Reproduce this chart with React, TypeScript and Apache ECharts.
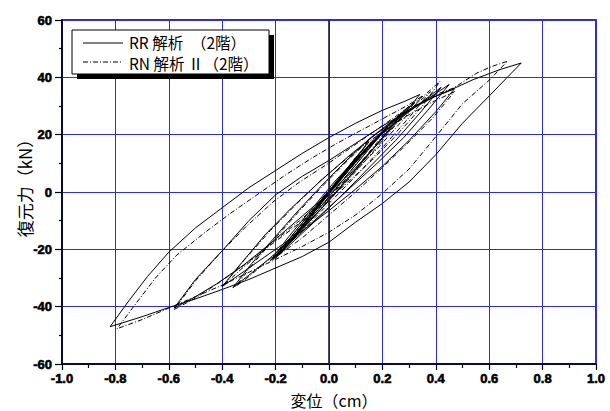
import React, { useEffect, useRef } from "react";
import * as echarts from "echarts";

// RR 解析 (2階) — solid line, displacement (cm), restoring force (kN)
const rrPath: number[][] = [
  [0, 0], [0.03, 3.5], [0.06, 7], [0.03, 3.2], [0, -0.5], [-0.04, -5], [-0.01, -1], [0.03, 3.8], [0.07, 8.5], [0.1, 12],
  [0.06, 7], [0.02, 2], [-0.03, -3.8], [-0.07, -8.5], [-0.1, -12], [-0.06, -7], [-0.01, -1], [0.04, 5], [0.09, 10.8], [0.14, 16.5],
  [0.09, 10.5], [0.04, 4.5], [-0.02, -2.5], [-0.08, -9.5], [-0.14, -16.5], [-0.21, -23.5],
  [-0.15, -16.5], [-0.08, -8.5], [0, 0.5], [0.08, 9], [0.16, 17.5], [0.23, 24], [0.3, 30],
  [0.24, 23.5], [0.16, 14.5], [0.07, 4.5], [-0.02, -5], [-0.12, -14.5], [-0.22, -23], [-0.3, -29], [-0.36, -33.4],
  [-0.29, -25], [-0.21, -16.5], [-0.12, -7], [-0.03, 2], [0.06, 10.5], [0.15, 18.5], [0.24, 25], [0.32, 30], [0.4, 33.5], [0.46, 35.8], [0.54, 39.2], [0.64, 42.7], [0.72, 45],
  [0.6, 33.5], [0.5, 24], [0.4, 13], [0.3, 3.5], [0.2, -4], [0.1, -10.5], [0, -17.5], [-0.1, -22.5], [-0.2, -26.5], [-0.3, -30.5], [-0.4, -34], [-0.5, -37.3], [-0.6, -40.3], [-0.7, -43.5], [-0.82, -47],
  [-0.75, -38], [-0.68, -29.5], [-0.6, -21], [-0.5, -12.5], [-0.4, -5.5], [-0.3, 1.5], [-0.2, 7.5], [-0.1, 13.5], [0, 19], [0.1, 24], [0.2, 28.5], [0.28, 31.5], [0.34, 34],
  [0.27, 26], [0.18, 16.5], [0.08, 6.5], [-0.02, -2], [-0.12, -10], [-0.22, -18], [-0.32, -25.5], [-0.42, -32], [-0.5, -36.5], [-0.58, -40.5],
  [-0.5, -30.5], [-0.4, -20.5], [-0.3, -10], [-0.2, -1], [-0.1, 5.5], [0, 11], [0.1, 17], [0.2, 23], [0.3, 28.5], [0.39, 33], [0.47, 36],
  [0.4, 28], [0.3, 18], [0.2, 9], [0.1, 1], [0, -6.5], [-0.1, -13.5], [-0.2, -20], [-0.3, -26.5], [-0.4, -33],
  [-0.33, -25], [-0.24, -15], [-0.14, -5.5], [-0.03, 4], [0.08, 13], [0.18, 20.5], [0.28, 27], [0.37, 32.5], [0.45, 37.5],
  [0.37, 28.5], [0.28, 19], [0.18, 10], [0.08, 1.5], [-0.02, -7], [-0.12, -15.5], [-0.22, -24],
  [-0.15, -15.5], [-0.07, -6.5], [0.02, 3.5], [0.11, 12.5], [0.2, 20.5], [0.3, 28], [0.42, 36.5],
  [0.34, 27.5], [0.25, 18], [0.15, 8.5], [0.05, -1], [-0.05, -10], [-0.13, -17], [-0.2, -23],
  [-0.13, -15], [-0.05, -6], [0.04, 4], [0.12, 12.5], [0.2, 20.5], [0.28, 28],
  [0.21, 20], [0.13, 11], [0.04, 1.5], [-0.05, -8], [-0.12, -15], [-0.18, -21],
  [-0.12, -14], [-0.04, -4.5], [0.04, 4.5], [0.13, 14], [0.22, 23],
  [0.15, 15], [0.06, 5], [-0.03, -5], [-0.1, -12.5], [-0.15, -18],
  [-0.09, -11], [-0.01, -1.5], [0.08, 8.5], [0.16, 17.5],
  [0.1, 10.5], [0.02, 1.5], [-0.06, -7.5], [-0.12, -14],
  [-0.06, -7], [0.02, 2], [0.1, 11], [0.05, 5.5], [-0.02, -2.5], [-0.08, -9.5], [-0.03, -3.5], [0.04, 4.5], [0.01, 1], [-0.02, -2.5],
];

// RN 解析 Ⅱ (2階) — dash-dot line
const rnPath: number[][] = [
  [0, 0], [0.03, 3.5], [0.055, 6.5], [0.02, 2.3], [-0.01, -1.5], [-0.045, -5.5], [-0.01, -1.2], [0.04, 4.8], [0.08, 9.5], [0.11, 13],
  [0.07, 8], [0.02, 2.2], [-0.04, -4.5], [-0.08, -9.5], [-0.11, -13], [-0.06, -7.2], [0, -0.2], [0.05, 6], [0.1, 11.8], [0.15, 17.5],
  [0.1, 11.5], [0.04, 4.8], [-0.03, -3.5], [-0.09, -10.5], [-0.15, -17.5], [-0.22, -24],
  [-0.15, -16.5], [-0.07, -7.5], [0.01, 1.5], [0.09, 10], [0.17, 18.5], [0.25, 25.5], [0.32, 31],
  [0.25, 23.5], [0.16, 13.5], [0.07, 4], [-0.03, -6], [-0.13, -15.5], [-0.23, -24], [-0.3, -29.5], [-0.35, -33],
  [-0.28, -24.5], [-0.2, -16], [-0.11, -6.5], [-0.02, 2.5], [0.07, 11], [0.16, 19], [0.25, 25.5], [0.33, 30.5], [0.4, 34], [0.467, 36.3], [0.554, 41.5], [0.61, 43.8], [0.668, 45.6],
  [0.6, 39], [0.5, 30.8], [0.4, 19.3], [0.3, 8], [0.2, -0.5], [0.1, -8], [0, -14], [-0.1, -19], [-0.2, -23.5], [-0.3, -28], [-0.4, -32.5], [-0.5, -36.5], [-0.6, -40.5], [-0.7, -44.5], [-0.794, -47.7],
  [-0.72, -38.5], [-0.65, -30], [-0.57, -22], [-0.47, -14.5], [-0.37, -7.5], [-0.27, -1], [-0.17, 5.5], [-0.07, 11.5], [0.03, 17], [0.13, 22], [0.23, 27], [0.3, 30.5], [0.35, 33.5],
  [0.28, 25.5], [0.19, 16], [0.09, 6.5], [-0.01, -2], [-0.11, -10], [-0.21, -17.5], [-0.31, -25], [-0.41, -31.5], [-0.5, -37], [-0.58, -41],
  [-0.5, -31], [-0.41, -21.5], [-0.31, -12], [-0.21, -3.5], [-0.11, 3.5], [-0.01, 9.5], [0.09, 16], [0.19, 22.5], [0.29, 29], [0.36, 34], [0.416, 38.6],
  [0.35, 30], [0.26, 20.5], [0.16, 11], [0.06, 2.5], [-0.04, -5.5], [-0.14, -13], [-0.24, -20], [-0.33, -27], [-0.4, -33],
  [-0.32, -24], [-0.22, -13.5], [-0.12, -4], [-0.02, 5], [0.09, 13.5], [0.2, 21], [0.3, 27], [0.39, 31.5], [0.47, 35],
  [0.39, 26], [0.3, 17.5], [0.2, 8.5], [0.1, 0], [0, -8], [-0.1, -16], [-0.21, -23.5],
  [-0.14, -15.5], [-0.06, -6], [0.03, 4], [0.12, 13], [0.21, 21], [0.3, 28.5], [0.38, 35],
  [0.3, 26], [0.21, 16.5], [0.11, 6.5], [0.01, -3], [-0.09, -12.5], [-0.19, -22],
  [-0.12, -14], [-0.04, -4.5], [0.05, 5], [0.13, 13.5], [0.2, 20.5], [0.27, 27.5],
  [0.2, 19.5], [0.12, 10.5], [0.03, 1], [-0.06, -9], [-0.12, -15], [-0.17, -20],
  [-0.11, -13], [-0.03, -3.5], [0.05, 5.5], [0.13, 14], [0.21, 22],
  [0.14, 14], [0.05, 4], [-0.04, -6], [-0.1, -12], [-0.14, -17],
  [-0.08, -10], [0, -0.5], [0.08, 8.5], [0.15, 16.5],
  [0.09, 9.5], [0.01, 0.5], [-0.06, -7], [-0.11, -13],
  [-0.05, -6], [0.03, 3], [0.09, 10], [0.04, 4.5], [-0.03, -3.5], [-0.07, -8.5], [-0.02, -2.5], [0.03, 3.5], [0, 0.2],
];

const seriesNames = ["RR 解析　（2階）", "RN 解析 Ⅱ（2階）"];
const xAxisTitle = "変位（cm）";
const yAxisTitle = "復元力（kN）";
const xRange = [-1, 1];
const yRange = [-60, 60];

const GRID_BLUE = "#2a2aff";
const CJK = "'Noto Sans CJK JP', 'Noto Sans', sans-serif";

export default function App() {
  const ref = useRef<HTMLDivElement>(null);
  useEffect(() => {
    if (!ref.current) return;
    const chart = echarts.init(ref.current, undefined, { renderer: "svg" });
    const dashDot = [5, 2, 1, 2];
    chart.setOption({
      animation: false,
      backgroundColor: "#fff",
      grid: { left: 62, right: 14, top: 20, bottom: 47, show: true, borderColor: "#000", borderWidth: 1.5, backgroundColor: "transparent" },
      xAxis: {
        type: "value",
        min: xRange[0],
        max: xRange[1],
        interval: 0.2,
        axisLine: { onZero: false, lineStyle: { color: "#000", width: 1.5 } },
        axisTick: { show: true, inside: false, length: 6, lineStyle: { color: "#000", width: 1.2 } },
        minorTick: { show: true, splitNumber: 2, length: 4, lineStyle: { color: "#000", width: 1.2 } },
        splitLine: { show: true, lineStyle: { color: GRID_BLUE, width: 1 } },
        axisLabel: {
          color: "#000",
          fontSize: 13,
          fontWeight: "bold",
          fontFamily: "Liberation Sans, Arial, sans-serif",
          textBorderColor: "#000",
          textBorderWidth: 0.6,
          margin: 8,
          formatter: (v: number) => v.toFixed(1),
        },
      },
      yAxis: {
        type: "value",
        min: yRange[0],
        max: yRange[1],
        interval: 20,
        axisLine: { onZero: false, lineStyle: { color: "#000", width: 1.5 } },
        axisTick: { show: true, inside: false, length: 7, lineStyle: { color: "#000", width: 1.2 } },
        minorTick: { show: true, splitNumber: 2, length: 3, lineStyle: { color: "#000", width: 1.2 } },
        splitLine: { show: true, lineStyle: { color: GRID_BLUE, width: 1 } },
        axisLabel: {
          color: "#000",
          fontSize: 13,
          fontWeight: "bold",
          fontFamily: "Liberation Sans, Arial, sans-serif",
          textBorderColor: "#000",
          textBorderWidth: 0.6,
          margin: 10,
        },
      },
      series: [
        {
          name: seriesNames[0],
          type: "line",
          data: rrPath,
          showSymbol: false,
          symbol: "none",
          lineStyle: { color: "#000", width: 1 },
          z: 3,
          markLine: {
            silent: true,
            symbol: ["none", "none"],
            label: { show: false },
            lineStyle: { color: "#1c1c40", width: 1.6, type: "solid" },
            data: [{ xAxis: 0 }],
          },
        },
        {
          name: seriesNames[1],
          type: "line",
          data: rnPath,
          showSymbol: false,
          symbol: "none",
          lineStyle: { color: "#000", width: 1, type: dashDot },
          z: 3,
        },
      ],
      graphic: [
        { type: "rect", shape: { x: 77, y: 35, width: 197, height: 44 }, style: { fill: "#000" }, z: 100 },
        { type: "rect", shape: { x: 72, y: 30, width: 197, height: 44 }, style: { fill: "#fff", stroke: "#000", lineWidth: 1 }, z: 101 },
        { type: "line", shape: { x1: 83, y1: 43, x2: 123, y2: 43 }, style: { stroke: "#000", lineWidth: 1 }, z: 102 },
        { type: "line", shape: { x1: 83, y1: 62, x2: 123, y2: 62 }, style: { stroke: "#000", lineWidth: 1, lineDash: dashDot }, z: 102 },
        { type: "text", x: 129, y: 42, style: { text: seriesNames[0], fill: "#000", font: `15.5px ${CJK}`, lineHeight: 16, verticalAlign: "middle", align: "left" }, z: 102 },
        { type: "text", x: 129, y: 62.5, style: { text: seriesNames[1], fill: "#000", font: `15.5px ${CJK}`, lineHeight: 16, verticalAlign: "middle", align: "left" }, z: 102 },
        { type: "text", x: 334, y: 400, style: { text: xAxisTitle, fill: "#000", font: `16px ${CJK}`, lineHeight: 17, verticalAlign: "middle", align: "center" }, z: 102 },
        { type: "text", x: 24, y: 184, rotation: Math.PI / 2, style: { text: yAxisTitle, fill: "#000", font: `17px ${CJK}`, lineHeight: 18, verticalAlign: "middle", align: "center" }, z: 102 },
      ],
    });
    return () => chart.dispose();
  }, []);
  return <div ref={ref} style={{ position: "fixed", left: 0, top: 0, width: 610, height: 411 }} />;
}
